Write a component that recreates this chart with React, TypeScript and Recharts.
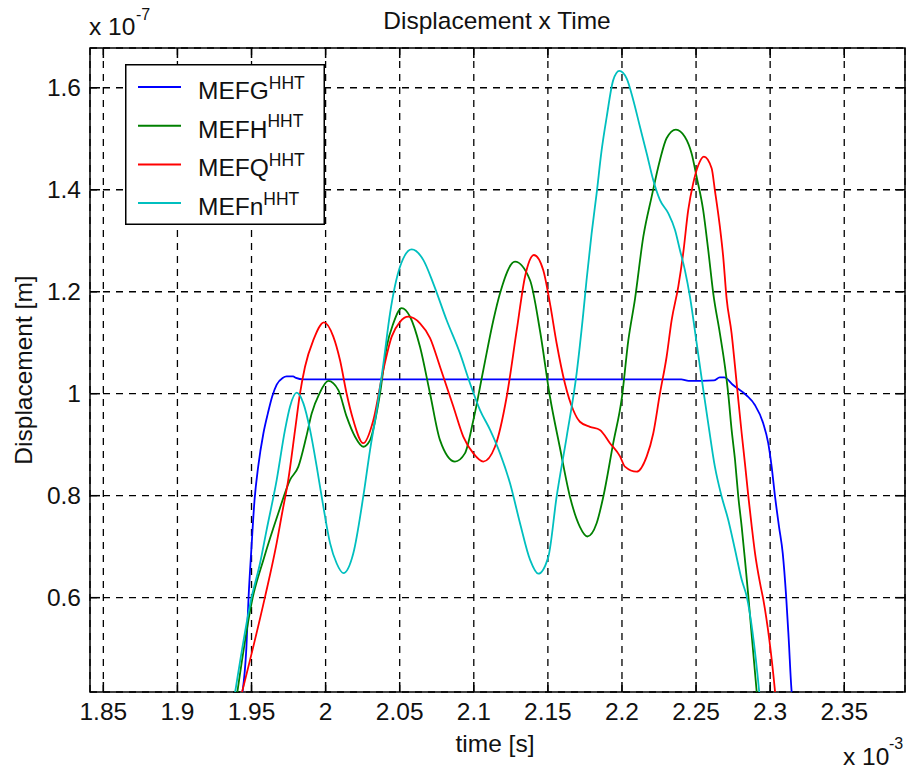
import { LineChart, Line, XAxis, YAxis, CartesianGrid, ReferenceArea, Legend } from "recharts"

const W = 909
const H = 771
const PLOT = { left: 90, top: 48, right: 905, bottom: 692 }
const FONT = '"Liberation Sans", Arial, Helvetica, sans-serif'
const INK = "#111"
const FS = 24.5

// time in 1e-3 s, displacement in 1e-7 m
const X_DOMAIN = [1.841, 2.391]
const Y_DOMAIN = [0.415, 1.678]
const X_TICKS = [1.85, 1.9, 1.95, 2, 2.05, 2.1, 2.15, 2.2, 2.25, 2.3, 2.35]
const Y_TICKS = [0.6, 0.8, 1, 1.2, 1.4, 1.6]

const NAMES = ["MEFG", "MEFH", "MEFQ", "MEFn"]
const COLORS = ["#0000ff", "#008000", "#ff0000", "#00bfbf"]

const mefg = [
  [1.9437, 0.41], [1.9465, 0.5], [1.948, 0.6], [1.95, 0.7], [1.952, 0.79], [1.9545, 0.857],
  [1.958, 0.922], [1.961, 0.961], [1.964, 0.995], [1.967, 1.018], [1.971, 1.031], [1.9737, 1.034],
  [1.978, 1.034], [1.98, 1.031], [1.985, 1.028], [2.1, 1.028], [2.24, 1.028], [2.245, 1.025],
  [2.262, 1.026], [2.266, 1.032], [2.269, 1.032], [2.275, 1.017], [2.284, 0.997], [2.2897, 0.978],
  [2.2953, 0.942], [2.2987, 0.903], [2.301, 0.857], [2.3033, 0.798], [2.306, 0.739], [2.3085, 0.687],
  [2.3108, 0.602], [2.3125, 0.52], [2.3145, 0.416], [2.3147, 0.41],
]

const mefh = [
  [1.9402, 0.41], [1.9508, 0.6], [1.958, 0.674], [1.968, 0.765], [1.976, 0.831], [1.9816, 0.857],
  [1.987, 0.916], [1.9906, 0.961], [1.9958, 1.0], [2.0018, 1.025], [2.0086, 1.007], [2.0142, 0.955],
  [2.0198, 0.916], [2.0254, 0.896], [2.03, 0.909], [2.0367, 1.0], [2.0412, 1.092], [2.0457, 1.138],
  [2.0513, 1.168], [2.057, 1.151], [2.0637, 1.092], [2.0705, 1.0], [2.0772, 0.909], [2.0873, 0.867],
  [2.094, 0.883], [2.0997, 0.948], [2.1064, 1.046], [2.1132, 1.144], [2.1177, 1.197], [2.1278, 1.259],
  [2.1379, 1.223], [2.1446, 1.125], [2.1514, 0.994], [2.158, 0.896], [2.1649, 0.798], [2.1716, 0.739],
  [2.1766, 0.72], [2.1829, 0.746], [2.1874, 0.798], [2.1941, 0.903], [2.2, 0.994], [2.2043, 1.105],
  [2.2088, 1.186], [2.2144, 1.308], [2.22, 1.386], [2.2256, 1.458], [2.2301, 1.501], [2.2364, 1.518],
  [2.2424, 1.504], [2.247, 1.471], [2.2504, 1.425], [2.2548, 1.36], [2.2582, 1.282], [2.2616, 1.197],
  [2.2661, 1.118], [2.2695, 1.053], [2.2717, 1.0], [2.274, 0.929], [2.2763, 0.87], [2.2785, 0.798],
  [2.2808, 0.739], [2.283, 0.674], [2.2853, 0.602], [2.2909, 0.416], [2.2911, 0.41],
]

const mefq = [
  [1.9432, 0.41], [1.959, 0.6], [1.9665, 0.7], [1.9706, 0.765], [1.9748, 0.831], [1.9794, 0.929],
  [1.9827, 1.0], [1.9861, 1.053], [1.9917, 1.105], [1.9989, 1.14], [2.0052, 1.112], [2.0097, 1.066],
  [2.0142, 1.0], [2.0187, 0.948], [2.0254, 0.903], [2.0322, 0.948], [2.0389, 1.046], [2.0446, 1.112],
  [2.0502, 1.141], [2.0558, 1.151], [2.0637, 1.138], [2.0705, 1.109], [2.0772, 1.053], [2.0862, 0.975],
  [2.0929, 0.916], [2.0997, 0.883], [2.1064, 0.867], [2.1143, 0.896], [2.1222, 0.994], [2.129, 1.125],
  [2.1346, 1.23], [2.1406, 1.272], [2.1469, 1.242], [2.1514, 1.177], [2.1559, 1.099], [2.1615, 1.02],
  [2.1671, 0.968], [2.1716, 0.945], [2.1784, 0.935], [2.1851, 0.929], [2.1919, 0.903], [2.1987, 0.877],
  [2.202, 0.857], [2.2099, 0.847], [2.2167, 0.877], [2.2211, 0.922], [2.2256, 1.0], [2.2301, 1.072],
  [2.2335, 1.144], [2.238, 1.21], [2.2413, 1.275], [2.2447, 1.36], [2.2481, 1.413], [2.2515, 1.448],
  [2.2553, 1.465], [2.2605, 1.442], [2.2627, 1.399], [2.2661, 1.327], [2.2683, 1.269], [2.2706, 1.187],
  [2.274, 1.118], [2.2763, 1.053], [2.2785, 0.988], [2.2808, 0.922], [2.283, 0.863], [2.2853, 0.798],
  [2.2876, 0.739], [2.2898, 0.687], [2.2932, 0.628], [2.2954, 0.596], [2.3033, 0.416], [2.3035, 0.41],
]

const mefn = [
  [1.9387, 0.41], [1.95, 0.6], [1.9557, 0.667], [1.9602, 0.733], [1.967, 0.831], [1.9726, 0.929],
  [1.976, 0.975], [1.9805, 1.002], [1.985, 0.981], [1.9895, 0.929], [1.994, 0.857], [1.9985, 0.778],
  [2.003, 0.707], [2.0075, 0.667], [2.012, 0.648], [2.0187, 0.687], [2.0254, 0.798], [2.03, 0.89],
  [2.0345, 0.968], [2.039, 1.059], [2.0435, 1.158], [2.0502, 1.249], [2.0581, 1.283], [2.066, 1.262],
  [2.0727, 1.216], [2.0817, 1.144], [2.0907, 1.079], [2.0975, 1.02], [2.1042, 0.968], [2.111, 0.929],
  [2.1177, 0.883], [2.1245, 0.824], [2.1312, 0.746], [2.138, 0.674], [2.1435, 0.647], [2.1503, 0.68],
  [2.1559, 0.798], [2.1627, 0.916], [2.1694, 1.04], [2.1739, 1.158], [2.1761, 1.223], [2.1795, 1.314],
  [2.1829, 1.393], [2.1863, 1.478], [2.1897, 1.543], [2.1941, 1.615], [2.1982, 1.633], [2.2032, 1.618],
  [2.2076, 1.576], [2.2121, 1.524], [2.2167, 1.471], [2.2211, 1.419], [2.2256, 1.38], [2.2312, 1.354],
  [2.2358, 1.321], [2.2391, 1.282], [2.2425, 1.242], [2.2459, 1.19], [2.2504, 1.099], [2.2549, 1.007],
  [2.2582, 0.942], [2.2627, 0.857], [2.2673, 0.798], [2.2717, 0.753], [2.2763, 0.694], [2.2808, 0.635],
  [2.2842, 0.602], [2.2926, 0.416], [2.2928, 0.41],
]

const SERIES_DATA = [mefg, mefh, mefq, mefn]

const toPoints = (arr: number[][]) => arr.map(([t, d]) => ({ t, d }))
const fmt = (v: number) => String(Number(v.toFixed(2)))

function XTick(props: any) {
  const { x, payload } = props
  return (
    <g>
      <line x1={x} x2={x} y1={PLOT.bottom} y2={PLOT.bottom - 10} stroke="#000" strokeWidth={1.5} />
      <line x1={x} x2={x} y1={PLOT.top} y2={PLOT.top + 10} stroke="#000" strokeWidth={1.5} />
      <text x={x} y={PLOT.bottom + 28} textAnchor="middle" fontSize={FS} fontFamily={FONT} fill={INK}>
        {fmt(payload.value)}
      </text>
    </g>
  )
}

function YTick(props: any) {
  const { y, payload } = props
  return (
    <g>
      <line x1={PLOT.left} x2={PLOT.left + 10} y1={y} y2={y} stroke="#000" strokeWidth={1.5} />
      <line x1={PLOT.right - 10} x2={PLOT.right} y1={y} y2={y} stroke="#000" strokeWidth={1.5} />
      <text x={PLOT.left - 9} y={y + 8.5} textAnchor="end" fontSize={FS} fontFamily={FONT} fill={INK}>
        {fmt(payload.value)}
      </text>
    </g>
  )
}

function LegendBox() {
  return (
    <svg width={200} height={161} style={{ display: "block" }}>
      <rect x={0.75} y={0.75} width={198.5} height={159.5} fill="#fff" stroke="#000" strokeWidth={1.5} />
      {NAMES.map((name, i) => {
        const cy = 23 + i * 38.7
        return (
          <g key={name}>
            <line x1={13} x2={56} y1={cy} y2={cy} stroke={COLORS[i]} strokeWidth={2} />
            <text x={73} y={cy + 12} fontSize={FS} fontFamily={FONT} fill={INK}>
              {name}
              <tspan fontSize={17.5} dy={-10.5}>HHT</tspan>
            </text>
          </g>
        )
      })}
    </svg>
  )
}

export default function App() {
  return (
    <div style={{ position: "absolute", left: 0, top: 0, width: W, height: H, background: "#fff" }}>
      <LineChart
        width={W}
        height={H}
        margin={{ top: PLOT.top, right: W - PLOT.right, bottom: 0, left: 0 }}
      >
        <CartesianGrid stroke="#000" strokeWidth={1.3} strokeDasharray="7 6" />
        <XAxis
          type="number"
          dataKey="t"
          domain={X_DOMAIN}
          ticks={X_TICKS}
          interval={0}
          allowDataOverflow
          height={H - PLOT.bottom}
          axisLine={false}
          tickLine={false}
          tickSize={0}
          tickMargin={0}
          tick={<XTick />}
        />
        <YAxis
          type="number"
          dataKey="d"
          domain={Y_DOMAIN}
          ticks={Y_TICKS}
          interval={0}
          allowDataOverflow
          width={PLOT.left}
          axisLine={false}
          tickLine={false}
          tickSize={0}
          tickMargin={0}
          tick={<YTick />}
        />
        {SERIES_DATA.map((arr, i) => (
          <Line
            key={NAMES[i]}
            name={NAMES[i]}
            data={toPoints(arr)}
            dataKey="d"
            type="monotone"
            stroke={COLORS[i]}
            strokeWidth={1.8}
            dot={false}
            activeDot={false}
            isAnimationActive={false}
          />
        ))}
        <ReferenceArea
          x1={X_DOMAIN[0]}
          x2={X_DOMAIN[1]}
          y1={Y_DOMAIN[0]}
          y2={Y_DOMAIN[1]}
          fill="none"
          fillOpacity={0}
          stroke="#000"
          strokeWidth={1.5}
        />
        <Legend
          content={<LegendBox />}
          layout="vertical"
          align="center"
          verticalAlign="middle"
          wrapperStyle={{ left: 125, top: 64, width: 200, height: 161 }}
        />
      </LineChart>
      <svg
        width={W}
        height={H}
        style={{ position: "absolute", left: 0, top: 0, pointerEvents: "none" }}
        fontFamily={FONT}
        fill={INK}
      >
        <text x={497} y={29} textAnchor="middle" fontSize={FS}>Displacement x Time</text>
        <text x={89} y={35} fontSize={FS}>x 10</text>
        <text x={136} y={20} fontSize={16}>-7</text>
        <text x={843} y={765} fontSize={FS}>x 10</text>
        <text x={889} y={749} fontSize={16}>-3</text>
        <text x={495} y={752} textAnchor="middle" fontSize={FS}>time [s]</text>
        <text transform="translate(32,370) rotate(-90)" textAnchor="middle" fontSize={FS}>Displacement [m]</text>
      </svg>
    </div>
  )
}
